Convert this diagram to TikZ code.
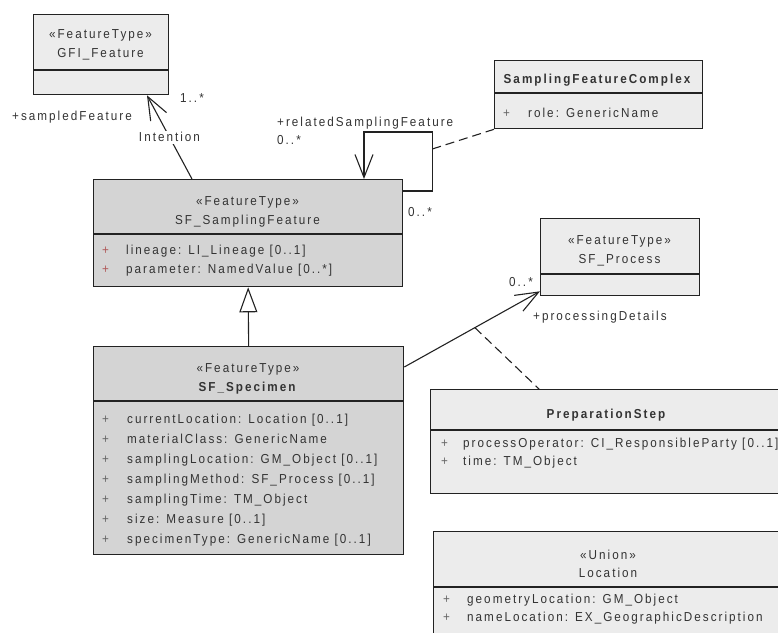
\documentclass[tikz,border=0pt]{standalone}
\usepackage{fontspec}
\setmainfont{Liberation Sans}[LetterSpace=15.5, FakeStretch=0.9]
\usetikzlibrary{arrows.meta,calc}
\definecolor{txt}{HTML}{333333}
\definecolor{lightfill}{HTML}{ECECEC}
\definecolor{grayfill}{HTML}{D4D4D4}
\definecolor{edge}{HTML}{222222}
\definecolor{redplus}{HTML}{B05A5A}
\definecolor{plusgray}{HTML}{666666}
\begin{document}
\begin{tikzpicture}[x=1pt,y=-1pt,
  every node/.style={font=\fontsize{13}{15}\selectfont, text=txt, inner sep=0pt, text height=9.3pt, text depth=0pt},
  lbox/.style={draw=edge, line width=1.3pt, fill=lightfill, anchor=north west},
  gbox/.style={draw=edge, line width=1.3pt, fill=grayfill, anchor=north west},
  div/.style={draw=edge, line width=1.3pt},
  attr/.style={anchor=west},
  plus/.style={anchor=west, text=plusgray},
  conn/.style={draw=edge, line width=1.1pt},
  barb/.style={-{Straight Barb[length=23pt,width=18pt]}},
  dashline/.style={draw=edge, line width=1.1pt, dash pattern=on 9pt off 5pt},
  lab/.style={anchor=west}
]
\useasboundingbox (0,0) rectangle (778,632);

% ---------- boxes ----------
\node[lbox, minimum width=135pt, minimum height=80pt] (gfi) at (33,14) {};
\draw[div] ($(gfi.north west)+(0,56)$) -- ($(gfi.north east)+(0,56)$);
\node (gfiS) at (100.5,34) {«FeatureType»};
\node (gfiN) at (100.5,53) {GFI\_Feature};

\node[lbox, minimum width=208pt, minimum height=68pt] (sfc) at (494,60) {};
\draw[div] ($(sfc.north west)+(0,33)$) -- ($(sfc.north east)+(0,33)$);
\node (sfcN) at (598,79) {\textbf{SamplingFeatureComplex}};
\node[plus] (sfcP1) at (503,113) {+};
\node[attr] (sfcA1) at (528,113) {role: GenericName};

\node[gbox, minimum width=309pt, minimum height=107pt] (sf) at (93,179) {};
\draw[div] ($(sf.north west)+(0,55)$) -- ($(sf.north east)+(0,55)$);
\node (sfS) at (247.5,201) {«FeatureType»};
\node (sfN) at (247.5,220) {SF\_SamplingFeature};
\node[attr, text=redplus] (sfP1) at (102,250) {+};
\node[attr, text=redplus] (sfP2) at (102,269) {+};
\node[attr] (sfA1) at (126,250) {lineage: LI\_Lineage [0..1]};
\node[attr] (sfA2) at (126,269) {parameter: NamedValue [0..*]};

\node[lbox, minimum width=159pt, minimum height=77pt] (proc) at (540,218) {};
\draw[div] ($(proc.north west)+(0,56)$) -- ($(proc.north east)+(0,56)$);
\node (procS) at (619.5,240) {«FeatureType»};
\node (procN) at (619.5,259) {SF\_Process};

\node[gbox, minimum width=310pt, minimum height=208pt] (spec) at (93,346) {};
\draw[div] ($(spec.north west)+(0,55)$) -- ($(spec.north east)+(0,55)$);
\node (specS) at (248,368) {«FeatureType»};
\node (specN) at (248,387) {\textbf{SF\_Specimen}};
\foreach \i/\t in {0/{currentLocation: Location [0..1]},
                   1/{materialClass: GenericName},
                   2/{samplingLocation: GM\_Object [0..1]},
                   3/{samplingMethod: SF\_Process [0..1]},
                   4/{samplingTime: TM\_Object},
                   5/{size: Measure [0..1]},
                   6/{specimenType: GenericName [0..1]}}{
  \node[plus] (specP\i) at (102,419.3+19.95*\i) {+};
  \node[attr] (specA\i) at (127,419.3+19.95*\i) {\t};
}

\node[lbox, minimum width=354pt, minimum height=104pt] (prep) at (430,389) {};
\draw[div] ($(prep.north west)+(0,41)$) -- ($(prep.north east)+(0,41)$);
\node (prepN) at (607,414) {\textbf{PreparationStep}};
\node[plus] (prepP1) at (441,443) {+};
\node[plus] (prepP2) at (441,461) {+};
\node[attr] (prepA1) at (463,443) {processOperator: CI\_ResponsibleParty [0..1]};
\node[attr] (prepA2) at (463,461) {time: TM\_Object};

\node[lbox, minimum width=351pt, minimum height=119pt] (loc) at (433,531) {};
\draw[div] ($(loc.north west)+(0,56)$) -- ($(loc.north east)+(0,56)$);
\node (locS) at (608,555) {«Union»};
\node (locN) at (608,573) {Location};
\node[plus] (locP1) at (443,599) {+};
\node[plus] (locP2) at (443,617) {+};
\node[attr] (locA1) at (467,599) {geometryLocation: GM\_Object};
\node[attr] (locA2) at (467,617) {nameLocation: EX\_GeographicDescription};

% ---------- connectors ----------
% sampledFeature association
\draw[conn, barb] ($(sf.north west)+(99,0)$) -- node[fill=white, inner xsep=1pt, inner ysep=2pt] (intent) {Intention} ($(gfi.south west)+(114,0)$);
\node[lab] (l1) at (12,116) {+sampledFeature};
\node[lab] (l2) at (180,98) {1..*};

% self association
\coordinate (loopA) at ($(sf.north east)+(0,12)$);
\coordinate (loopB) at ($(sf.north east)+(29,12)$);
\coordinate (loopC) at ($(sf.north east)+(29,-47)$);
\coordinate (loopD) at ($(sf.north west)+(271,-47)$);
\coordinate (loopE) at ($(sf.north west)+(271,0)$);
\draw[conn, barb] (loopA) -- (loopB) -- (loopC) -- (loopD) -- (loopE);
\node[lab] (l3) at (277,122) {+relatedSamplingFeature};
\node[lab] (l4) at (277,140) {0..*};
\node[lab] (l5) at (408,212) {0..*};
\coordinate (loopM) at ($(sf.north east)+(29,-30)$);
\draw[dashline] (loopM) -- (sfc.south west);

% generalization
\draw[conn, -{Triangle[open, length=25pt, width=18pt, fill=white]}] (spec.north) -- (sf.south);

% processingDetails association
\coordinate (pA) at ($(spec.north east)+(0,21)$);
\coordinate (pB) at ($(proc.south west)+(0,-5)$);
\draw[conn, barb] (pA) -- coordinate[pos=0.52] (pMid) (pB);
\node[lab] (l6) at (509,282) {0..*};
\node[lab] (l7) at (533,316) {+processingDetails};
\draw[dashline] (pMid) -- ($(prep.north west)+(109,0)$);

\end{tikzpicture}
\end{document}
